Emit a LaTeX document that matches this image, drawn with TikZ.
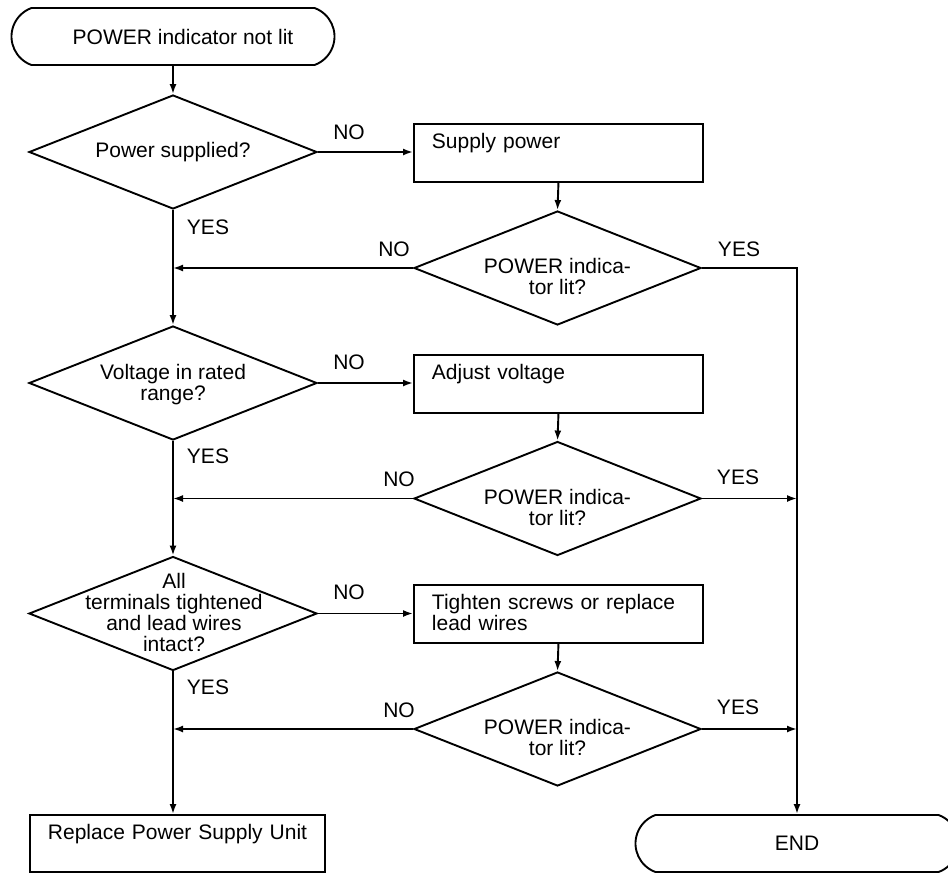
\documentclass[tikz,border=0pt]{standalone}
\usepackage{fontspec}
\setmainfont{Liberation Sans}
\usetikzlibrary{shapes.geometric,shapes.misc,arrows.meta}
\begin{document}
\begin{tikzpicture}[x=1pt,y=-1pt,
  every node/.style={font=\fontsize{21}{21}\selectfont},
  arr/.style={line width=1.9pt, -{Latex[length=10pt,width=7pt]}},
  term/.style={draw, line width=1.9pt, rounded rectangle, rounded rectangle arc length=140,
    minimum width=323pt, minimum height=57pt, inner sep=0pt},
  dec/.style={draw, line width=1.9pt, diamond, minimum width=288pt, minimum height=114pt, inner sep=0pt},
  dtext/.style={align=center, inner sep=0pt},
  proc/.style={draw, line width=1.9pt, rectangle, anchor=north west, align=left,
    inner xsep=18pt, inner ysep=10pt, text height=15pt, text depth=23pt},
  lab/.style={inner sep=0pt}
]
\useasboundingbox (0,0) rectangle (948,873);

% terminals
\node[term] (start) at (173,36.5) {\hspace*{20pt}POWER indicator not lit};
\node[term] (end) at (797,843.5) {END};

% decisions (left column)
\node[dec] (d1) at (173,152) {};
\node[dtext] (t1) at (d1) {Power supplied?};
\node[dec] (d3) at (173,383) {};
\node[dtext] (t3) at (173,385) {Voltage in rated\\range?};
\node[dec] (d5) at (173,613.5) {};
\node[dtext] (t5) at (174,612.5) {All\\terminals tightened\\and lead wires\\intact?};

% decisions (right column)
\node[dec, minimum width=287pt] (d2) at (557.5,268) {};
\node[dtext, anchor=base] (t2) at (557.5,294.5) {POWER indica-\\tor lit?};
\node[dec, minimum width=287pt] (d4) at (557.5,498.5) {};
\node[dtext, anchor=base] (t4) at (557.5,525) {POWER indica-\\tor lit?};
\node[dec, minimum width=287pt] (d6) at (557.5,729) {};
\node[dtext, anchor=base] (t6) at (557.5,755.5) {POWER indica-\\tor lit?};

% process boxes
\node[proc, text width=253pt] (supply) at (413,123) {Supply power};
\node[proc, text width=253pt] (adjust) at (413,354) {Adjust voltage};
\node[proc, text width=253pt] (tighten) at (413,584) {Tighten screws or replace\\lead wires};
\node[proc, text width=259pt, text depth=22pt] (replace) at (29,814) {\mbox{Replace Power Supply Unit}};

% YES / NO labels
\node[lab] (no1) at (349,132) {NO};
\node[lab] (no3) at (349,362) {NO};
\node[lab] (no5) at (349,592) {NO};
\node[lab] (yes1) at (208,227) {YES};
\node[lab] (yes3) at (208,456.5) {YES};
\node[lab] (yes5) at (208,687.5) {YES};
\node[lab] (no2) at (394,249) {NO};
\node[lab] (no4) at (399,479.5) {NO};
\node[lab] (no6) at (399,710.5) {NO};
\node[lab] (yes2) at (739,249) {YES};
\node[lab] (yes4) at (738,477) {YES};
\node[lab] (yes6) at (738,707) {YES};

% connectors
\draw[arr] (start.south) -- (start.south |- d1.north);
\draw[arr] (d1.east) -- (d1.east -| supply.west);
\draw[arr] (supply.south) -- (d2.north);
\draw[arr] (d2.west) -- (d2.west -| d1.south);
\draw[arr] (d2.east) -| (end.north);
\draw[arr] (d1.south) -- (d3.north);

\draw[arr] (d3.east) -- (d3.east -| adjust.west);
\draw[arr] (adjust.south) -- (d4.north);
\draw[arr] (d4.west) -- (d4.west -| d3.south);
\draw[arr] (d4.east) -- (d4.east -| end.north);
\draw[arr] (d3.south) -- (d5.north);

\draw[arr] (d5.east) -- (d5.east -| tighten.west);
\draw[arr] (tighten.south) -- (d6.north);
\draw[arr] (d6.west) -- (d6.west -| d5.south);
\draw[arr] (d6.east) -- (d6.east -| end.north);
\draw[arr] (d5.south) -- (d5.south |- replace.north);
\end{tikzpicture}
\end{document}
